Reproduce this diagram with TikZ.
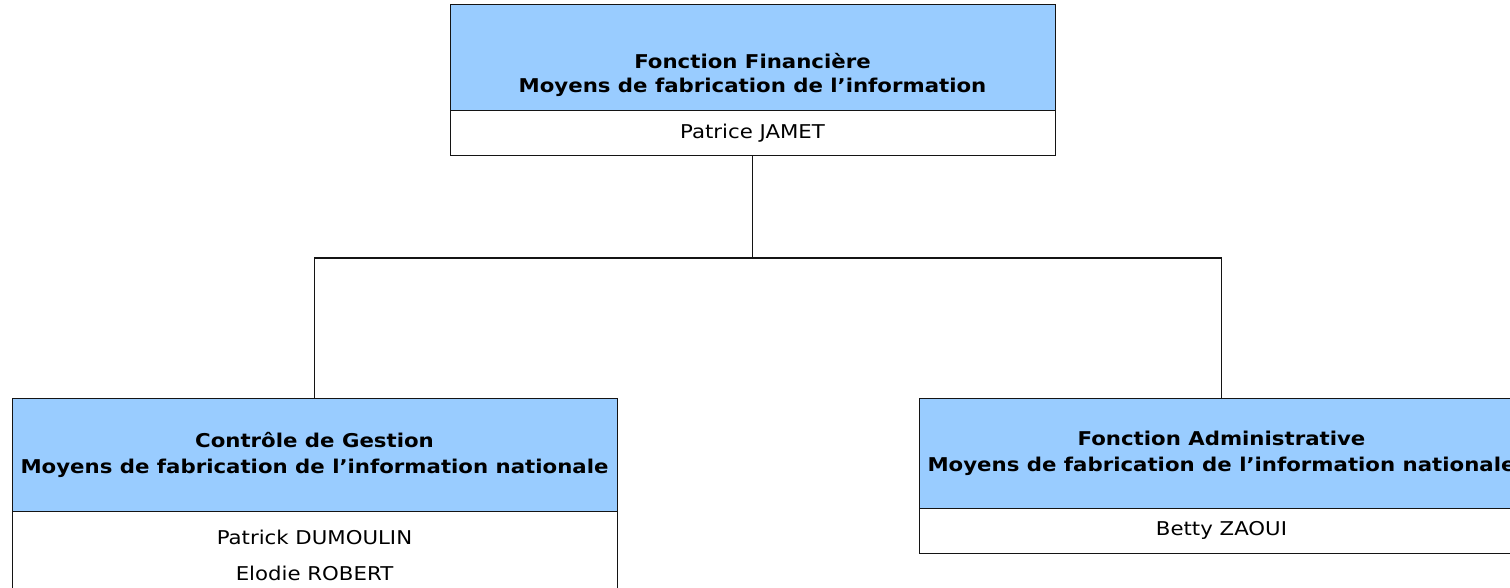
\documentclass[tikz,border=0pt]{standalone}
\usepackage{fontspec}
\setmainfont{DejaVu Sans}[FakeStretch=1.12]
\definecolor{hdrblue}{HTML}{99CCFF}
\definecolor{edge}{HTML}{141414}
\tikzset{
  hdr/.style={draw=edge, line width=1pt, fill=hdrblue, rectangle, minimum width=605pt, inner sep=0pt, align=center, font=\fontsize{19}{26}\selectfont\bfseries},
  hdrtext/.style={inner sep=0pt, align=center, font=\fontsize{19}{24}\selectfont\bfseries},
  bdy/.style={draw=edge, line width=1pt, fill=white, rectangle, minimum width=605pt, inner sep=0pt, align=center, font=\fontsize{19}{36}\selectfont},
  conn/.style={draw=edge, line width=1.3pt}
}
\begin{document}
\begin{tikzpicture}[x=1pt,y=-1pt]
\clip (0,0) rectangle (1510,588);
\fill[white] (0,0) rectangle (1510,588);
% top box
\node[hdr, minimum height=106pt] (tophead) at (752.5,58) {};
\node[hdrtext] (toptext) at (752.5,75) {Fonction Financière\\Moyens de fabrication de l’information};
\node[bdy, minimum height=45pt] (topbody) at (752.5,133.5) {Patrice JAMET};
% left box
\node[hdr, minimum height=113pt] (lefthead) at (314.5,454.5) {Contrôle de Gestion\\Moyens de fabrication de l’information nationale};
\node[bdy, minimum height=88pt] (leftbody) at (314.5,555) {Patrick DUMOULIN\\Elodie ROBERT};
% right box
\node[hdr, minimum height=110pt] (righthead) at (1221.5,453) {Fonction Administrative\\Moyens de fabrication de l’information nationale};
\node[bdy, minimum height=45pt] (rightbody) at (1221.5,530.5) {Betty ZAOUI};
% connectors
\coordinate (bus) at (752.5,258);
\draw[conn] (topbody.south) -- (bus);
\draw[conn] (lefthead.north) |- (bus) -| (righthead.north);
\end{tikzpicture}
\end{document}
